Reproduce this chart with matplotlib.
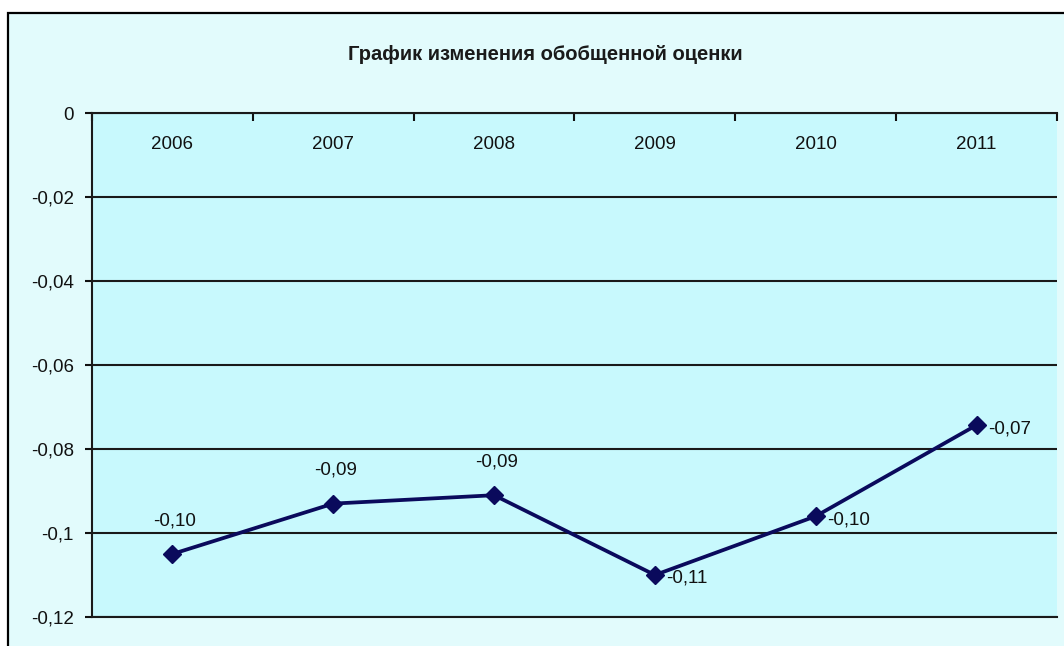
import matplotlib
matplotlib.use('Agg')
import matplotlib.pyplot as plt
from matplotlib.patches import Rectangle

# generalized score by year
years = ['2006', '2007', '2008', '2009', '2010', '2011']
scores = [-0.105, -0.093, -0.091, -0.110, -0.096, -0.0743]
point_labels = ['-0,10', '-0,09', '-0,09', '-0,11', '-0,10', '-0,07']
label_side = ['above', 'above', 'above', 'right', 'right', 'right']

y_ticks = [0, -0.02, -0.04, -0.06, -0.08, -0.1, -0.12]
y_tick_labels = ['0', '-0,02', '-0,04', '-0,06', '-0,08', '-0,1', '-0,12']
title = 'График изменения обобщенной оценки'

plt.rcParams['font.family'] = ['Liberation Sans', 'DejaVu Sans']

W, H = 1064, 646
fig = plt.figure(figsize=(W / 100, H / 100), dpi=100)
fig.patch.set_facecolor('white')

# chart area frame, behind the plot
fig.patches.append(Rectangle((8 / W, -0.1), 1.2, 1.1 - 13 / H, transform=fig.transFigure,
                             facecolor='#E2FBFC', edgecolor='black', linewidth=1.6,
                             zorder=-5))

fig.text(545 / W, 1 - 55 / H, title, ha='center', va='center',
         fontsize=14.5, fontweight='bold', color='#1a1a1a')

ax = fig.add_axes([92 / W, 1 - 617 / H, (1057 - 92) / W, (617 - 113) / H])
ax.set_facecolor('#C8F9FD')
ax.set_xlim(-0.5, len(years) - 0.5)
ax.set_ylim(-0.12, 0)

ax.set_yticks(y_ticks)
ax.set_yticklabels(y_tick_labels)
ax.tick_params(axis='y', direction='out', length=5, width=1.5, pad=8,
               labelsize=13.5, colors='#111111')
ax.yaxis.grid(True, color='#1a1a1a', linewidth=1.5)
ax.set_axisbelow(True)

# category axis sits on the zero line, ticks between categories
ax.xaxis.tick_top()
ax.set_xticks([i - 0.5 for i in range(len(years) + 1)])
ax.set_xticklabels([])
ax.tick_params(axis='x', direction='in', length=6, width=1.5, colors='#111111')
for i, yr in enumerate(years):
    ax.text(i, -0.0074, yr, ha='center', va='center', fontsize=13.5, color='#111111')

ax.spines['right'].set_visible(False)
for side in ['left', 'top', 'bottom']:
    ax.spines[side].set_linewidth(1.5)
    ax.spines[side].set_color('#1a1a1a')

x = list(range(len(years)))
ax.plot(x, scores, color='#0A0A5C', linewidth=2.7, marker='D', markersize=9.5,
        markerfacecolor='#0A0A5C', markeredgecolor='#0A0A5C', zorder=3)

for i, (v, txt, side) in enumerate(zip(scores, point_labels, label_side)):
    if side == 'above':
        ax.annotate(txt, (i, v), xytext=(1.5, 24), textcoords='offset points',
                    ha='center', va='center', fontsize=13.5, color='#111111')
    else:
        ax.annotate(txt, (i, v), xytext=(8, -2.5), textcoords='offset points',
                    ha='left', va='center', fontsize=13.5, color='#111111')

fig.savefig('out.png', dpi=100)
